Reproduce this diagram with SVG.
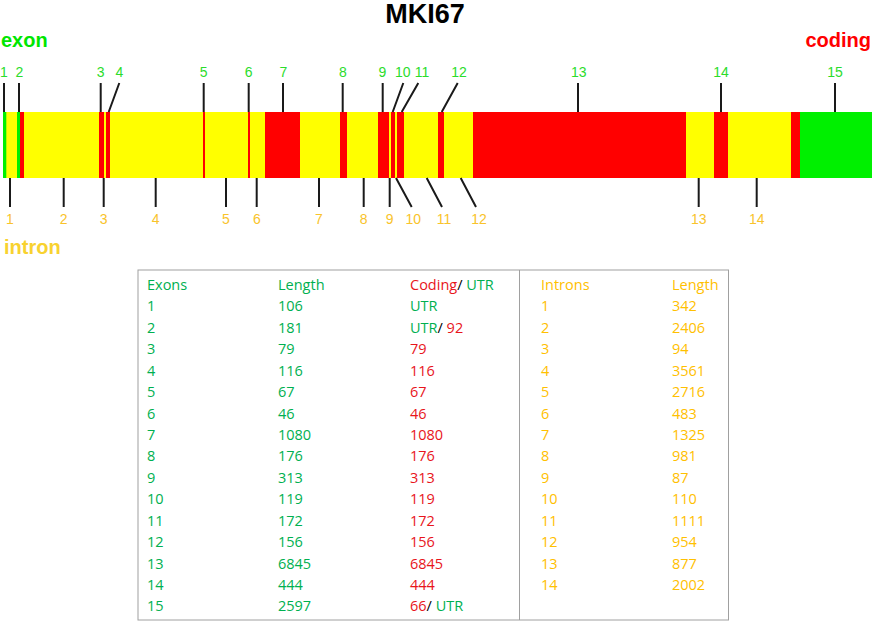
<svg xmlns="http://www.w3.org/2000/svg" width="873" height="621" viewBox="0 0 873 621">
<style>
.t{font-family:"Liberation Sans",Arial,sans-serif;font-weight:bold}
.num{font-family:"Liberation Sans",Arial,sans-serif;font-size:14px;text-anchor:middle}
.g{fill:#2bdc2b}
.y{fill:#f9c32a}
.tk{stroke:#1a1a1a;stroke-width:2;fill:none}
.tb{font-family:"Open Sans","Noto Sans",sans-serif;font-size:14.5px}
.tg{fill:#00b050}
.tr{fill:#e8151b}
.ti{fill:#ffc000}
.tbk{fill:#000}
</style>
<rect width="873" height="621" fill="#fff"/>
<text class="t" x="425" y="23" font-size="27" text-anchor="middle" fill="#000">MKI67</text>
<text class="t" x="1" y="47" font-size="20" fill="#00e600">exon</text>
<text class="t" x="871" y="47" font-size="20" text-anchor="end" fill="#ff0000">coding</text>
<text class="t" x="4" y="254" font-size="20" fill="#f8d22f">intron</text>

<g id="gene-bar">
<rect x="3" y="112" width="869" height="66" fill="#ffff00"/>
<g fill="#ff0000">
<rect x="20" y="112" width="4" height="66"/>
<rect x="99" y="112" width="5" height="66"/>
<rect x="106" y="112" width="4" height="66"/>
<rect x="203" y="112" width="2" height="66"/>
<rect x="248" y="112" width="2" height="66"/>
<rect x="265" y="112" width="35" height="66"/>
<rect x="340" y="112" width="7" height="66"/>
<rect x="378" y="112" width="11" height="66"/>
<rect x="391" y="112" width="4" height="66"/>
<rect x="397" y="112" width="7" height="66"/>
<rect x="438" y="112" width="6" height="66"/>
<rect x="473" y="112" width="213" height="66"/>
<rect x="714" y="112" width="14" height="66"/>
<rect x="791" y="112" width="9" height="66"/>
</g>
<g fill="#00f000">
<rect x="3" y="112" width="3.3" height="66"/>
<rect x="17" y="112" width="3" height="66"/>
<rect x="800" y="112" width="72" height="66"/>
</g>
</g>

<g id="connectors">
<path class="tk" d="M4 83V112M19 83V112M100.7 83V112M119.3 83L108.7 112M203.7 83V112M248.7 83V112M283 83V112M342.7 83V112M382.7 83V112M403.3 83L392.7 112M418.3 83L401.7 112M457.7 83L441.7 112M578 83V112M721 83V112M835 83V112"/>
<path class="tk" d="M10 178V207M63.7 178V207M103.7 178V207M155.7 178V207M226 178V207M256.7 178V207M319 178V207M363.7 178V207M389.7 178V207M396 178L411.7 207M426.7 178L442 207M460.7 178L476 207M698.7 178V207M756.7 178V207"/>
</g>

<g id="exon-labels" class="num g">
<text id="exon-1" x="4" y="77">1</text>
<text id="exon-2" x="19.5" y="77">2</text>
<text id="exon-3" x="100.7" y="77">3</text>
<text id="exon-4" x="119.5" y="77">4</text>
<text id="exon-5" x="203.7" y="77">5</text>
<text id="exon-6" x="248.7" y="77">6</text>
<text id="exon-7" x="283.5" y="77">7</text>
<text id="exon-8" x="343" y="77">8</text>
<text id="exon-9" x="382.5" y="77">9</text>
<text id="exon-10" x="402.7" y="77">10</text>
<text id="exon-11" x="422" y="77">11</text>
<text id="exon-12" x="459" y="77">12</text>
<text id="exon-13" x="578.7" y="77">13</text>
<text id="exon-14" x="721" y="77">14</text>
<text id="exon-15" x="835" y="77">15</text>
</g>

<g id="intron-labels" class="num y">
<text id="intron-1" x="10" y="224">1</text>
<text id="intron-2" x="63.7" y="224">2</text>
<text id="intron-3" x="103.7" y="224">3</text>
<text id="intron-4" x="155.7" y="224">4</text>
<text id="intron-5" x="226" y="224">5</text>
<text id="intron-6" x="257" y="224">6</text>
<text id="intron-7" x="319" y="224">7</text>
<text id="intron-8" x="363.7" y="224">8</text>
<text id="intron-9" x="389.7" y="224">9</text>
<text id="intron-10" x="413.3" y="224">10</text>
<text id="intron-11" x="444" y="224">11</text>
<text id="intron-12" x="479" y="224">12</text>
<text id="intron-13" x="698.7" y="224">13</text>
<text id="intron-14" x="756.7" y="224">14</text>
</g>

<g id="table">
<rect x="138" y="270" width="590.5" height="350" fill="none" stroke="#a0a0a0" stroke-width="1"/>
<line x1="519.5" y1="270" x2="519.5" y2="620" stroke="#a0a0a0" stroke-width="1"/>
<g class="tb">
<g class="tg">
<text x="147" y="290">Exons</text>
<text x="147" y="311.4">1</text><text x="147" y="332.9">2</text><text x="147" y="354.3">3</text><text x="147" y="375.7">4</text><text x="147" y="397.1">5</text><text x="147" y="418.6">6</text><text x="147" y="440">7</text><text x="147" y="461.4">8</text><text x="147" y="482.9">9</text><text x="147" y="504.3">10</text><text x="147" y="525.7">11</text><text x="147" y="547.1">12</text><text x="147" y="568.6">13</text><text x="147" y="590">14</text><text x="147" y="611.4">15</text>
<text x="278" y="290">Length</text>
<text x="278" y="311.4">106</text><text x="278" y="332.9">181</text><text x="278" y="354.3">79</text><text x="278" y="375.7">116</text><text x="278" y="397.1">67</text><text x="278" y="418.6">46</text><text x="278" y="440">1080</text><text x="278" y="461.4">176</text><text x="278" y="482.9">313</text><text x="278" y="504.3">119</text><text x="278" y="525.7">172</text><text x="278" y="547.1">156</text><text x="278" y="568.6">6845</text><text x="278" y="590">444</text><text x="278" y="611.4">2597</text>
</g>
<text x="410" y="290"><tspan class="tr">Coding</tspan><tspan class="tbk">/ </tspan><tspan class="tg">UTR</tspan></text>
<text x="410" y="311.4" class="tg">UTR</text>
<text x="410" y="332.9"><tspan class="tg">UTR</tspan><tspan class="tbk">/ </tspan><tspan class="tr">92</tspan></text>
<g class="tr">
<text x="410" y="354.3">79</text><text x="410" y="375.7">116</text><text x="410" y="397.1">67</text><text x="410" y="418.6">46</text><text x="410" y="440">1080</text><text x="410" y="461.4">176</text><text x="410" y="482.9">313</text><text x="410" y="504.3">119</text><text x="410" y="525.7">172</text><text x="410" y="547.1">156</text><text x="410" y="568.6">6845</text><text x="410" y="590">444</text>
</g>
<text x="410" y="611.4"><tspan class="tr">66</tspan><tspan class="tbk">/ </tspan><tspan class="tg">UTR</tspan></text>
<g class="ti">
<text x="541" y="290">Introns</text>
<text x="541" y="311.4">1</text><text x="541" y="332.9">2</text><text x="541" y="354.3">3</text><text x="541" y="375.7">4</text><text x="541" y="397.1">5</text><text x="541" y="418.6">6</text><text x="541" y="440">7</text><text x="541" y="461.4">8</text><text x="541" y="482.9">9</text><text x="541" y="504.3">10</text><text x="541" y="525.7">11</text><text x="541" y="547.1">12</text><text x="541" y="568.6">13</text><text x="541" y="590">14</text>
<text x="672" y="290">Length</text>
<text x="672" y="311.4">342</text><text x="672" y="332.9">2406</text><text x="672" y="354.3">94</text><text x="672" y="375.7">3561</text><text x="672" y="397.1">2716</text><text x="672" y="418.6">483</text><text x="672" y="440">1325</text><text x="672" y="461.4">981</text><text x="672" y="482.9">87</text><text x="672" y="504.3">110</text><text x="672" y="525.7">1111</text><text x="672" y="547.1">954</text><text x="672" y="568.6">877</text><text x="672" y="590">2002</text>
</g>
</g>
</g>
</svg>
